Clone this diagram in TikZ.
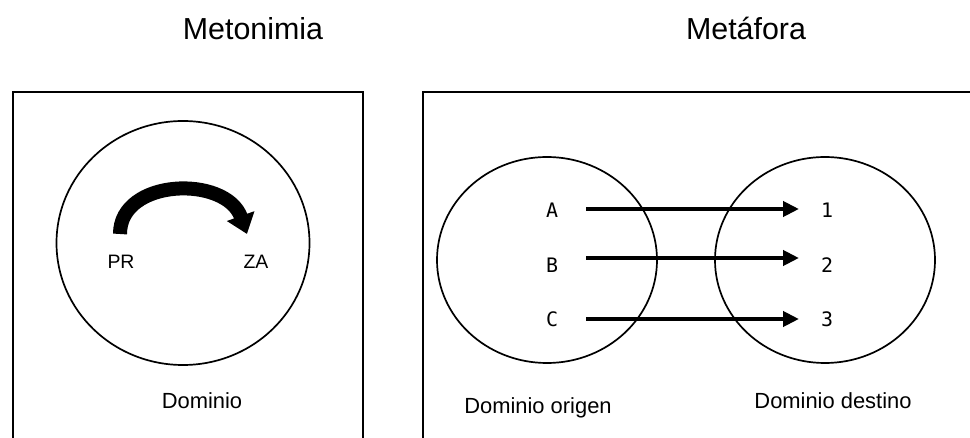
\documentclass[tikz,border=0pt]{standalone}
\usepackage{fontspec}
\setmainfont{Liberation Sans}
\newfontfamily\monofont{DejaVu Sans Mono}
\usetikzlibrary{arrows.meta,shapes.geometric,calc}
\begin{document}
\begin{tikzpicture}[x=1bp,y=-1bp,
  frame/.style={draw=black,line width=2bp},
  domaincircle/.style={draw=black,line width=1.7bp,ellipse,inner sep=0pt},
  titletext/.style={anchor=base,inner sep=0pt,font=\fontsize{30.5}{34}\selectfont},
  captiontext/.style={anchor=base,inner sep=0pt,font=\fontsize{22}{26}\selectfont},
  termtext/.style={anchor=base,inner sep=0pt,font=\fontsize{19.5}{23}\selectfont},
  itemtext/.style={anchor=base,inner sep=0pt,font=\monofont\fontsize{20}{24}\selectfont},
  maparrow/.style={line width=4bp,-{Triangle[length=16bp,width=15bp]}},
  shiftarrow/.style={line width=14bp,-{Triangle[length=19bp,width=28bp]}}
]
\useasboundingbox (0,0) rectangle (970,438);
\clip (0,0) rectangle (970,438);

% titles
\node[titletext] (t-meton) at (253,40) {Metonimia};
\node[titletext] (t-metaf) at (746,40) {Metáfora};

% frames (open at the bottom edge)
\draw[frame] (13,460) -- (13,92) -- (363,92) -- (363,460);
\draw[frame] (423,460) -- (423,92) -- (990,92);

% metonymy: one domain
\node[domaincircle,minimum width=253bp,minimum height=244bp] (dom) at (183,243) {};
\node[termtext] (pr) at (121,269) {PR};
\node[termtext] (za) at (256,269) {ZA};
\draw[shiftarrow] ($(pr.base)+(-1,-35)$) .. controls (120,178) and (226,175) .. ($(za.base)+(-9,-35)$);
\node[captiontext] (dom-lbl) at (202,408) {Dominio};

% metaphor: source and target domains
\node[domaincircle,minimum width=220bp,minimum height=206bp] (src) at (547,260) {};
\node[domaincircle,minimum width=220bp,minimum height=206bp] (tgt) at (825,260) {};

\node[itemtext] (a) at (552,218) {A};
\node[itemtext] (b) at (552,273) {B};
\node[itemtext] (c) at (552,327) {C};
\node[itemtext] (n1) at (827,218) {1};
\node[itemtext] (n2) at (827,273) {2};
\node[itemtext] (n3) at (827,327) {3};

\draw[maparrow] ($(a.base)+(34,-9)$) -- ($(n1.base)+(-28,-9)$);
\draw[maparrow] ($(b.base)+(34,-15)$) -- ($(n2.base)+(-28,-15)$);
\draw[maparrow] ($(c.base)+(34,-8)$) -- ($(n3.base)+(-28,-8)$);

\node[captiontext] (src-lbl) at (538,413) {Dominio origen};
\node[captiontext] (tgt-lbl) at (833,408) {Dominio destino};
\end{tikzpicture}
\end{document}
